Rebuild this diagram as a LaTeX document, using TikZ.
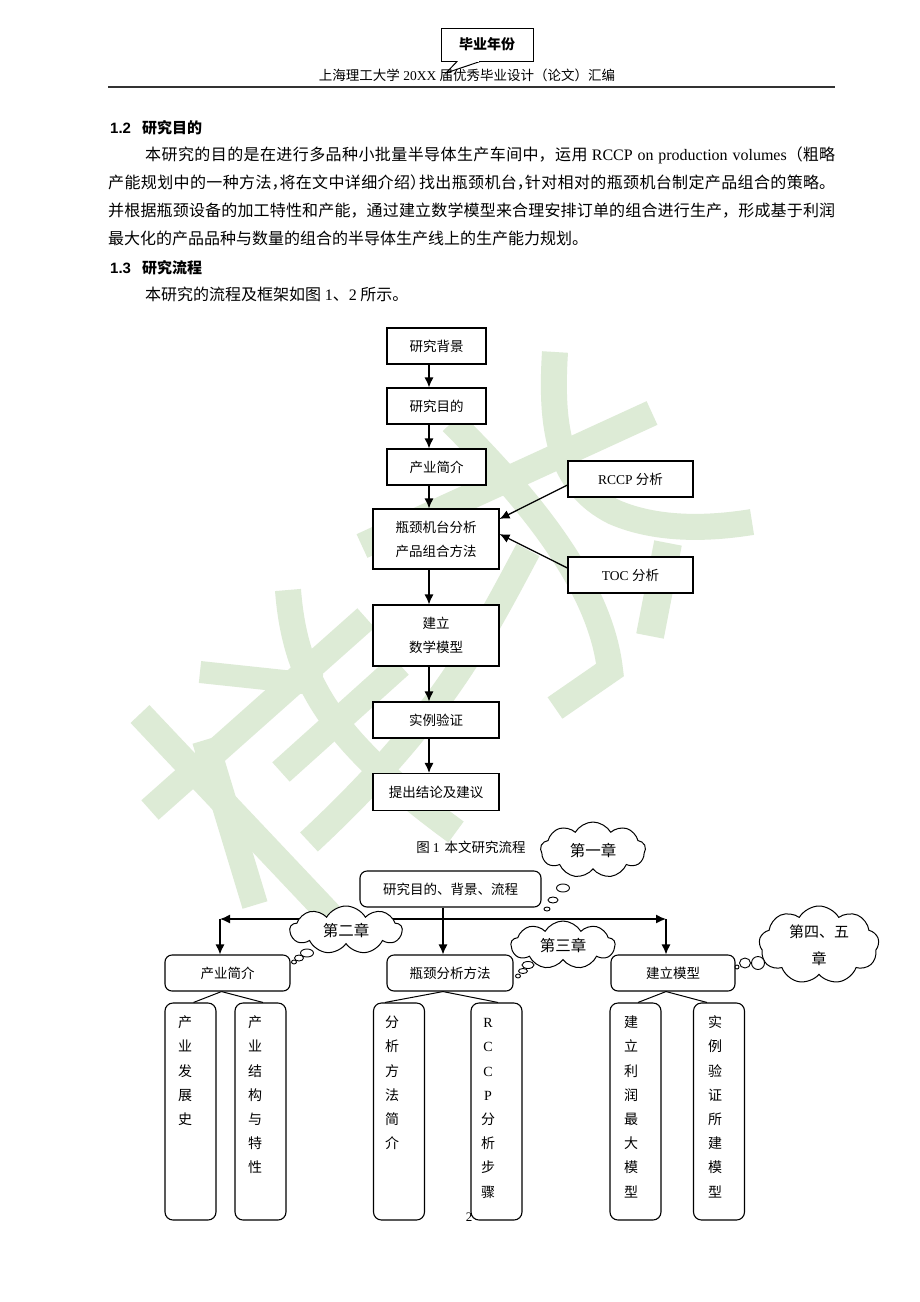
\documentclass[tikz,border=0pt]{standalone}
\usepackage{fontspec}
\setmainfont{Liberation Serif}
\newfontfamily\cjk{Noto Sans CJK SC}
\newfontfamily\arialf{Liberation Sans}
\usetikzlibrary{arrows.meta,shapes.symbols,shapes.geometric}
\XeTeXlinebreaklocale "zh"
\XeTeXlinebreakskip=0pt plus 1pt
\definecolor{wm}{RGB}{221,235,214}
\tikzset{
 fbox/.style={draw, line width=1.1pt, fill=white, inner sep=0pt, align=center, font=\cjk\fontsize{13.5}{24}\selectfont},
 rbox/.style={fbox, rounded corners=7pt},
 leafbox/.style={draw, line width=1.1pt, fill=white, rounded corners=8pt, inner sep=0pt, minimum width=51pt, minimum height=217pt},
 lch/.style={inner sep=0pt, font=\cjk\fontsize{14}{14}\selectfont, text height=11pt, text depth=2pt},
 arr/.style={line width=1.3pt, -{Latex[length=10pt,width=9pt]}},
 conn/.style={line width=1pt},
 thought/.style={cloud, cloud puffs=9, cloud puff arc=120, aspect=2, draw, line width=1pt, fill=white, inner sep=0pt, font=\cjk\fontsize{15.5}{27}\selectfont, align=center},
 bub/.style={ellipse, draw, line width=0.9pt, fill=white, inner sep=0pt},
 wmk/.style={line width=26pt, draw=wm},
}
\begin{document}
\begin{tikzpicture}[x=1pt,y=-1pt]
\useasboundingbox[fill=white] (0,0) rectangle (920,1302);

% ---- watermark ----
\draw[wmk] (555,352) .. controls (550,430) and (560,485) .. (614,512) .. controls (660,532) and (715,528) .. (752,522);
\draw[wmk] (652,413) -- (362,546);
\draw[wmk] (452,422) .. controls (520,490) and (600,580) .. (610,670) -- (555,708);
\draw[wmk, line width=28pt] (668,543) -- (650,636);
\draw[wmk] (528,550) .. controls (480,640) and (440,720) .. (309,842);
\draw[wmk] (288,590) .. controls (295,680) and (330,740) .. (456,832);
\draw[wmk, line width=22pt] (200,672) -- (322,685);
\draw[wmk] (366,618) -- (150,810);
\draw[wmk] (400,665) -- (281,772);
\draw[wmk] (140,714) -- (330,915);
\draw[wmk] (205,740) -- (255,905);

% ---- header ----
\node[draw, line width=1pt, fill=white, minimum width=92pt, minimum height=33pt, inner sep=0pt,
      font=\cjk\bfseries\fontsize{14}{14}\selectfont] (yr) at (487,44.5) {毕业年份};
\coordinate (yrtip) at (446,73);
\draw[line width=1pt, fill=white] ([xshift=-30pt]yr.south) -- (yrtip) -- ([xshift=-7pt]yr.south);
\draw[white, line width=1.3pt] ([xshift=-29pt]yr.south) -- ([xshift=-8pt]yr.south);
\node[inner sep=0pt, font=\fontsize{13.5}{14}\selectfont] (ht) at (467,75)
  {{\cjk 上海理工大学} 20XX {\cjk 届优秀毕业设计（论文）汇编}};
\draw[line width=1.4pt, black!80] (108,87) -- (835,87);

% ---- text ----
\node[anchor=base west, inner sep=0pt, font=\arialf\bfseries\fontsize{15}{15}\selectfont] (h12) at (110,133)
  {1.2\hspace{11pt}{\cjk 研究目的}};
\node[anchor=base west, inner sep=0pt, text width=727pt, align=justify,
      font=\cjk\fontsize{16}{28.1}\selectfont] (para) at (108,160)
  {\hspace*{37pt}本研究的目的是在进行多品种小批量半导体生产车间中，运用 {\rmfamily RCCP on production volumes}（粗略\linebreak
   产能规划中的一种方法\makebox[8pt][l]{，}将在文中详细介绍\makebox[9pt][l]{）}找出瓶颈机台\makebox[8pt][l]{，}针对相对的瓶颈机台制定产品组合的策略。\linebreak
   并根据瓶颈设备的加工特性和产能，通过建立数学模型来合理安排订单的组合进行生产，形成基于利润\linebreak
   最大化的产品品种与数量的组合的半导体生产线上的生产能力规划。};
\node[anchor=base west, inner sep=0pt, font=\arialf\bfseries\fontsize{15}{15}\selectfont] (h13) at (110,273)
  {1.3\hspace{11pt}{\cjk 研究流程}};
\node[anchor=base west, inner sep=0pt, font=\cjk\fontsize{16}{16}\selectfont] (intro) at (145,300)
  {本研究的流程及框架如图 {\rmfamily 1}、{\rmfamily 2} 所示。};

% ---- flowchart (figure 1) ----
\node[fbox, minimum width=99pt, minimum height=36pt] (f1) at (436.5,346) {研究背景};
\node[fbox, minimum width=99pt, minimum height=36pt] (f2) at (436.5,406) {研究目的};
\node[fbox, minimum width=99pt, minimum height=36pt] (f3) at (436.5,467) {产业简介};
\node[fbox, minimum width=126pt, minimum height=60pt] (f4) at (436,539) {瓶颈机台分析\\产品组合方法};
\node[fbox, minimum width=126pt, minimum height=61pt] (f5) at (436,635.5) {建立\\数学模型};
\node[fbox, minimum width=126pt, minimum height=36pt] (f6) at (436,720) {实例验证};
\node[fbox, minimum width=126pt, minimum height=37pt] (f7) at (436,792) {提出结论及建议};
\node[fbox, minimum width=125pt, minimum height=36pt] (rc) at (630.5,479) {{\rmfamily RCCP }分析};
\node[fbox, minimum width=125pt, minimum height=36pt] (toc) at (630.5,575) {{\rmfamily TOC }分析};

\draw[arr] ([xshift=-7.5pt]f1.south) -- ([xshift=-7.5pt]f2.north);
\draw[arr] ([xshift=-7.5pt]f2.south) -- ([xshift=-7.5pt]f3.north);
\draw[arr] ([xshift=-7.5pt]f3.south) -- ([xshift=-7pt]f4.north);
\draw[arr] ([xshift=-7pt]f4.south) -- ([xshift=-7pt]f5.north);
\draw[arr] ([xshift=-7pt]f5.south) -- ([xshift=-7pt]f6.north);
\draw[arr] ([xshift=-7pt]f6.south) -- ([xshift=-7pt]f7.north);
\draw[arr] ([yshift=-6pt]rc.west) -- ([yshift=20pt]f4.east);
\draw[arr] ([yshift=7pt]toc.west) -- ([yshift=5pt]f4.east);

\node[inner sep=0pt, font=\cjk\fontsize{13.5}{14}\selectfont] (cap) at (471,847) {图 {\rmfamily 1}\hspace{5pt}本文研究流程};

% ---- figure 2 tree ----
\node[rbox, minimum width=181pt, minimum height=36pt] (t0) at (450.5,889) {研究目的、背景、流程};
\node[rbox, minimum width=125pt, minimum height=36pt] (b1) at (227.5,973) {产业简介};
\node[rbox, minimum width=126pt, minimum height=36pt] (b2) at (450,973) {瓶颈分析方法};
\node[rbox, minimum width=124pt, minimum height=36pt] (b3) at (673,973) {建立模型};

\coordinate (hl) at (220,919);
\coordinate (hr) at (666,919);
\coordinate (hm) at (443,919);
\draw[arr] ([xshift=-7.5pt]t0.south) -- ([xshift=-7pt]b2.north);
\draw[arr] (hm) -- (hl);
\draw[arr] (hm) -- (hr);
\draw[arr] (hl) -- ([xshift=-7.5pt]b1.north);
\draw[arr] (hr) -- ([xshift=-7pt]b3.north);

\node[leafbox] (l1) at (190.5,1111.5) {};
\node[leafbox] (l2) at (260.5,1111.5) {};
\node[leafbox] (l3) at (399,1111.5) {};
\node[leafbox] (l4) at (496.5,1111.5) {};
\node[leafbox] (l5) at (635.5,1111.5) {};
\node[leafbox] (l6) at (719,1111.5) {};

\draw[conn] ([xshift=-6pt]b1.south) -- ([xshift=3pt]l1.north);
\draw[conn] ([xshift=-6pt]b1.south) -- ([xshift=2.5pt]l2.north);
\draw[conn] ([xshift=-7pt]b2.south) -- ([xshift=-14pt]l3.north);
\draw[conn] ([xshift=-7pt]b2.south) -- ([xshift=1.5pt]l4.north);
\draw[conn] ([xshift=-7pt]b3.south) -- ([xshift=2.5pt]l5.north);
\draw[conn] ([xshift=-7pt]b3.south) -- ([xshift=-12pt]l6.north);

\foreach \c [count=\i] in {产,业,发,展,史} \node[lch] (l1c\i) at (185,999+24.2*\i) {\c};
\foreach \c [count=\i] in {产,业,结,构,与,特,性} \node[lch] (l2c\i) at (255,999+24.2*\i) {\c};
\foreach \c [count=\i] in {分,析,方,法,简,介} \node[lch] (l3c\i) at (392,999+24.2*\i) {\c};
\foreach \c [count=\i] in {{\rmfamily R},{\rmfamily C},{\rmfamily C},{\rmfamily P},分,析,步,骤} \node[lch] (l4c\i) at (488,999+24.2*\i) {\c};
\foreach \c [count=\i] in {建,立,利,润,最,大,模,型} \node[lch] (l5c\i) at (631,999+24.2*\i) {\c};
\foreach \c [count=\i] in {实,例,验,证,所,建,模,型} \node[lch] (l6c\i) at (715,999+24.2*\i) {\c};

% ---- thought clouds ----
\node[thought, minimum width=105pt, minimum height=56pt] (c1) at (593,850) {第一章};
\node[bub, minimum width=13pt, minimum height=8pt] (c1a) at (563,888) {};
\node[bub, minimum width=10pt, minimum height=6pt] (c1b) at (553,900) {};
\node[bub, minimum width=6pt, minimum height=4pt] (c1c) at (547,909) {};

\node[thought, minimum width=112pt, minimum height=48pt] (c2) at (346,930) {第二章};
\node[bub, minimum width=13pt, minimum height=8pt] (c2a) at (307,953) {};
\node[bub, minimum width=9pt, minimum height=6pt] (c2b) at (299,958) {};
\node[bub, minimum width=5pt, minimum height=4pt] (c2c) at (294,962) {};

\node[thought, minimum width=104pt, minimum height=48pt] (c3) at (563,945) {第三章};
\node[bub, minimum width=12pt, minimum height=7pt] (c3a) at (528,965) {};
\node[bub, minimum width=9pt, minimum height=5pt] (c3b) at (523,971) {};
\node[bub, minimum width=5pt, minimum height=4pt] (c3c) at (518,976) {};

\node[thought, minimum width=118pt, minimum height=78pt, font=\cjk\fontsize{15}{27}\selectfont] (c4) at (819,945) {第四、五\\章};
\node[bub, minimum width=13pt, minimum height=13pt] (c4a) at (758,963) {};
\node[bub, minimum width=11pt, minimum height=10pt] (c4b) at (745,963) {};
\node[bub, minimum width=4pt, minimum height=4pt] (c4c) at (737,967) {};

\node[inner sep=0pt, font=\fontsize{13}{13}\selectfont] (pg) at (469,1217) {2};
\end{tikzpicture}
\end{document}
